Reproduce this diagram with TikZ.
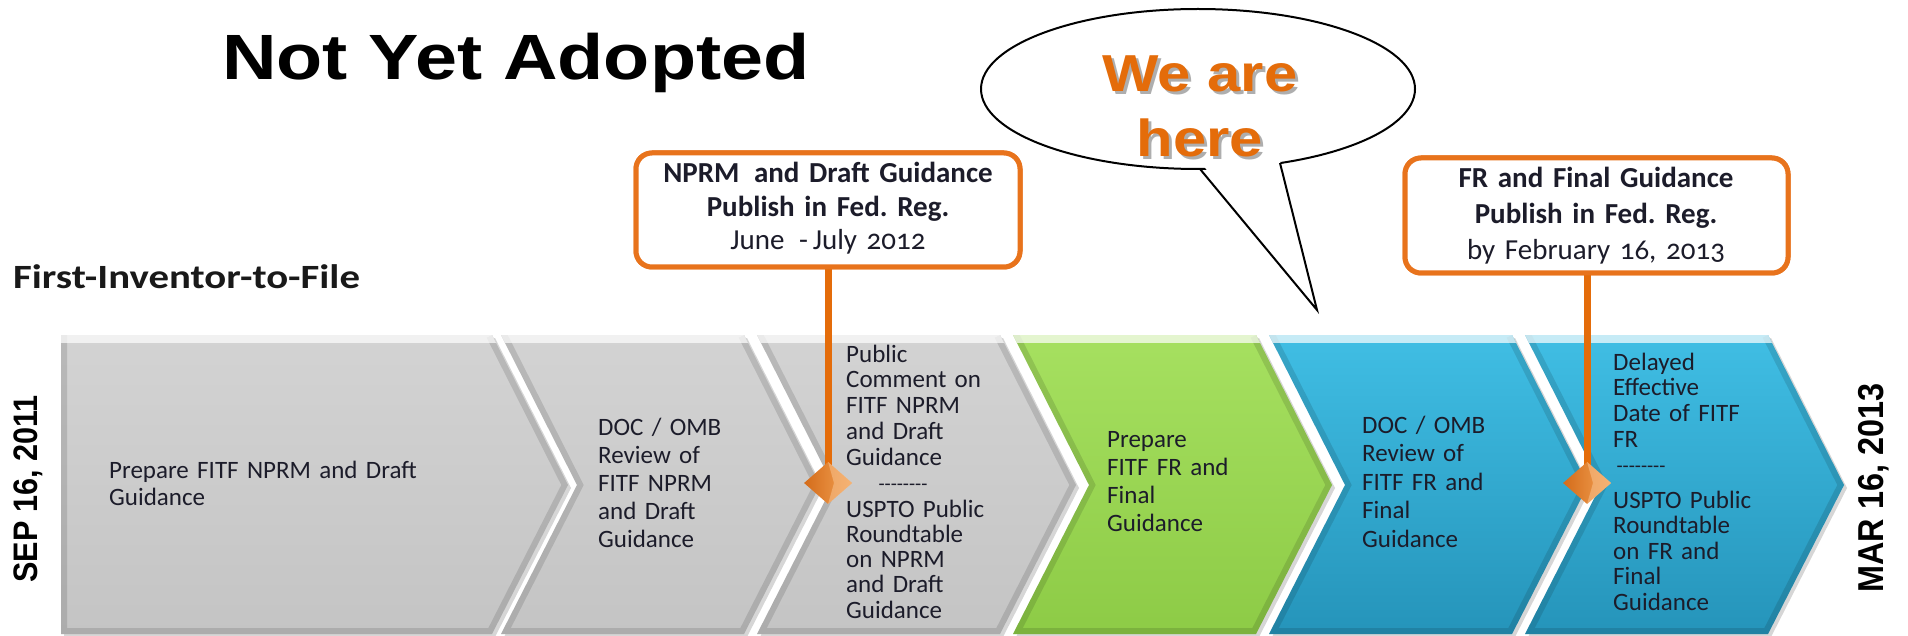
\documentclass[tikz,border=0pt]{standalone}
\usepackage{fontspec}
\setmainfont{Carlito}[Numbers=OldStyle]
\newfontfamily\titlefont{Liberation Sans}[FakeStretch=1.18]
\newfontfamily\bubblefont{Liberation Sans}[FakeStretch=1.15]
\newfontfamily\datefont{Liberation Sans}[FakeStretch=0.9]
\newfontfamily\widefont{Carlito}[FakeStretch=1.2]
\usetikzlibrary{shapes.geometric}
\frenchspacing
\definecolor{orng}{HTML}{E46C0A}
\definecolor{boxorng}{HTML}{E8731C}
\definecolor{txt}{HTML}{1C1C2A}
\definecolor{gry1}{HTML}{D3D3D3}
\definecolor{gry2}{HTML}{C4C4C4}
\definecolor{grn1}{HTML}{A6E060}
\definecolor{grn2}{HTML}{8DCB46}
\definecolor{blu1}{HTML}{40BEE4}
\definecolor{blu2}{HTML}{2594BA}
\definecolor{dia1}{HTML}{D46C1A}
\definecolor{dia2}{HTML}{F3A255}
\newcommand\mychev[3]{%
  \fill[black,opacity=0.16] (#1+3,338) -- (#1+246,338) -- (#1+322,488) -- (#1+246,637) -- (#1+3,637) -- (#1+79,488) -- cycle;
  \shade[top color=#2,bottom color=#3] (#1,335) -- (#1+243,335) -- (#1+319,485) -- (#1+243,634) -- (#1,634) -- (#1+76,485) -- cycle;
  \begin{scope}
    \clip (#1,335) -- (#1+243,335) -- (#1+319,485) -- (#1+243,634) -- (#1,634) -- (#1+76,485) -- cycle;
    \draw[line width=12pt, black, opacity=0.12] (#1,335) -- (#1+76,485) -- (#1,634) -- (#1+243,634) -- (#1+319,485) -- (#1+243,335);
    \draw[line width=16pt, white, opacity=0.7] (#1-20,335) -- (#1+263,335);
  \end{scope}}
\begin{document}
\begin{tikzpicture}[x=1pt,y=-1pt,
  chevtext/.style={anchor=base west, align=left, text width=250pt, inner sep=0pt, text=txt},
  dashtext/.style={anchor=base, inner sep=0pt, text=txt, font=\fontsize{20}{22}\selectfont},
  callbox/.style={draw=boxorng, line width=5pt, rounded corners=16pt, fill=white, inner sep=0pt},
  calltext/.style={anchor=base, align=center, text width=380pt, inner sep=0pt, text=txt},
  conn/.style={draw=orng, line width=7pt},
  gem/.style={diamond, minimum width=48pt, minimum height=42pt, inner sep=0pt, left color=dia1, right color=dia2},
  bigorange/.style={anchor=base, inner sep=0pt, text=orng, font=\bubblefont\bfseries\fontsize{52}{56}\selectfont},
  bigshadow/.style={anchor=base, inner sep=0pt, text=black!45, opacity=0.7, font=\bubblefont\bfseries\fontsize{52}{56}\selectfont},
  datestyle/.style={anchor=base, rotate=90, inner sep=0pt, text=black, font=\datefont\bfseries\fontsize{34}{36}\selectfont}]
\useasboundingbox (0,0) rectangle (1908,636);
\fill[white] (0,0) rectangle (1908,636);

% first chevron (flat left side)
\fill[black,opacity=0.16] (64,338) -- (495,338) -- (571,488) -- (495,637) -- (64,637) -- cycle;
\shade[top color=gry1,bottom color=gry2] (61,335) -- (492,335) -- (568,485) -- (492,634) -- (61,634) -- cycle;
\begin{scope}
  \clip (61,335) -- (492,335) -- (568,485) -- (492,634) -- (61,634) -- cycle;
  \draw[line width=12pt, black, opacity=0.12] (61,335) -- (61,634) -- (492,634) -- (568,485) -- (492,335);
  \draw[line width=16pt, white, opacity=0.7] (40,335) -- (512,335);
\end{scope}
\mychev{501}{gry1}{gry2}
\mychev{757}{gry1}{gry2}
\mychev{1013}{grn1}{grn2}
\mychev{1269}{blu1}{blu2}
\mychev{1525}{blu1}{blu2}

% chevron texts
\node[chevtext, text width=400pt, font=\fontsize{25}{27}\selectfont] (c1t) at (109,478) {Prepare FITF NPRM and Draft\\Guidance};
\node[chevtext, font=\fontsize{25}{28}\selectfont] (c2t) at (598,435) {DOC / OMB\\Review of\\FITF NPRM\\and Draft\\Guidance};
\node[chevtext, font=\fontsize{25}{25.8}\selectfont] (c3a) at (846,362) {Public\\Comment on\\FITF NPRM\\and Draft\\Guidance};
\node[dashtext] (c3d) at (903,490) {-{}-{}-{}-{}-{}-{}-{}-};
\node[chevtext, font=\fontsize{25}{25.3}\selectfont] (c3b) at (846,517) {USPTO Public\\Roundtable\\on NPRM\\and Draft\\Guidance};
\node[chevtext, font=\fontsize{25}{28.3}\selectfont] (c4t) at (1107,447) {Prepare\\FITF FR and\\Final\\Guidance};
\node[chevtext, font=\fontsize{25}{28.5}\selectfont] (c5t) at (1362,433) {DOC / OMB\\Review of\\FITF FR and\\Final\\Guidance};
\node[chevtext, font=\fontsize{25}{25.7}\selectfont] (c6a) at (1613,370) {Delayed\\Effective\\Date of FITF\\FR};
\node[dashtext] (c6d) at (1641,472) {-{}-{}-{}-{}-{}-{}-{}-};
\node[chevtext, font=\fontsize{25}{25.5}\selectfont] (c6b) at (1613,508) {USPTO Public\\Roundtable\\on FR and\\Final\\Guidance};

% dates
\node[datestyle] (sep) at (37,489) {SEP 16, 2011};
\node[datestyle, font=\datefont\bfseries\fontsize{36}{38}\selectfont] (mar) at (1883,488) {MAR 16, 2013};

% labels
\node[anchor=base west, inner sep=0pt, text=black!90, font=\widefont\bfseries\fontsize{34}{36}\selectfont] (fitf) at (13,288) {First-Inventor-to-File};
\node[anchor=base west, inner sep=0pt, text=black, font=\titlefont\bfseries\fontsize{64}{70}\selectfont] (title) at (222,80) {Not Yet Adopted};

% callouts with connectors
\coordinate (d1) at (828,483);
\coordinate (d2) at (1587,483);
\node[callbox, minimum width=384pt, minimum height=114pt] (box1) at (828,210) {};
\node[callbox, minimum width=383pt, minimum height=115pt] (box2) at (1596.5,215.5) {};
\draw[conn] (box1.south) -- (d1);
\draw[conn] (box2.south -| d2) -- (d2);
\node[callbox, minimum width=384pt, minimum height=114pt] at (box1) {};
\node[callbox, minimum width=383pt, minimum height=115pt] at (box2) {};
\node[calltext, font=\fontsize{29}{33.5}\selectfont] (t1) at (828,183) {\textbf{NPRM\enspace and Draft Guidance}\\\textbf{Publish in Fed. Reg.}\\June\enspace-\thinspace July 2012};
\node[calltext, font=\fontsize{29}{36}\selectfont] (t2) at (1596,188) {\textbf{FR and Final Guidance}\\\textbf{Publish in Fed. Reg.}\\by February 16, 2013};
\node[gem] (dm1) at (d1) {};
\fill[dia2!70!white, opacity=0.6] (dm1.north) -- (dm1.east) -- (dm1.south) -- ([xshift=6pt]dm1.center) -- cycle;
\node[gem] (dm2) at (d2) {};
\fill[dia2!70!white, opacity=0.6] (dm2.north) -- (dm2.east) -- (dm2.south) -- ([xshift=6pt]dm2.center) -- cycle;

% speech bubble
\draw[line width=2pt, fill=white] (1198,89) ellipse [x radius=217, y radius=80];
\fill[white] (1202,164) -- (1317,308) -- (1279,157) -- cycle;
\draw[line width=2pt, line join=miter] (1200,169) -- (1317,310) -- (1280,163);
\node[bigshadow] at (1203,95) {We are};
\node[bigshadow] at (1203,160) {here};
\node[bigorange] (we1) at (1200,92) {We are};
\node[bigorange] (we2) at (1200,157) {here};
\end{tikzpicture}
\end{document}
